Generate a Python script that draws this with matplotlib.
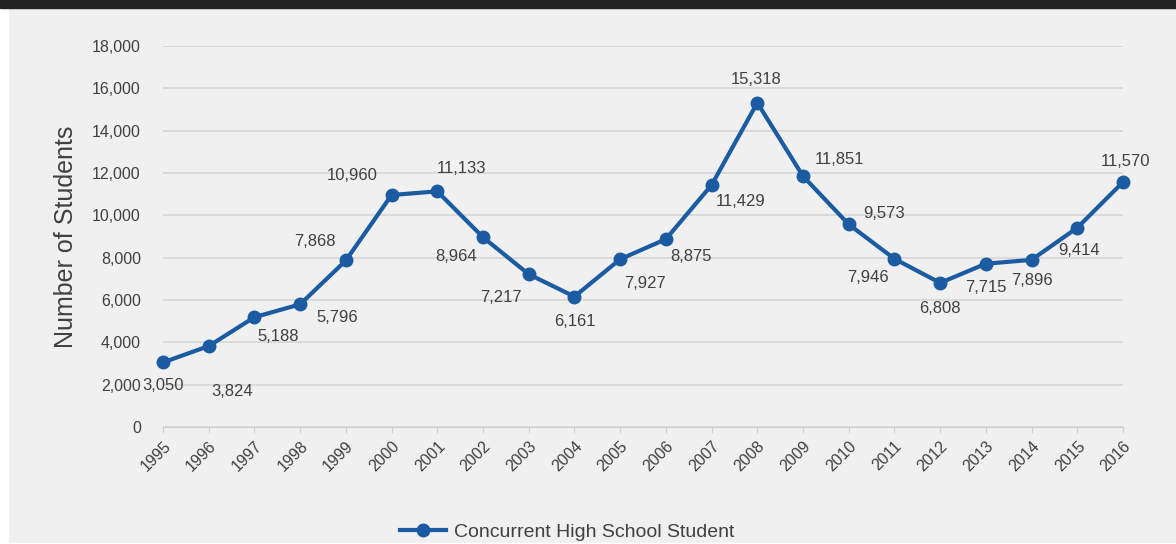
import matplotlib.pyplot as plt
from matplotlib.patches import Rectangle

# === Data ===
years = list(range(1995, 2017))
students = [3050, 3824, 5188, 5796, 7868, 10960, 11133, 8964, 7217, 6161, 7927,
            8875, 11429, 15318, 11851, 9573, 7946, 6808, 7715, 7896, 9414, 11570]
series_name = 'Concurrent High School Student'

# label offsets in pixels (dx, dy) relative to each point
label_offsets = [(0, -23), (23, -45), (24, -19), (37, -13), (-31, 19), (-39, 20),
                 (24, 23), (-27, -19), (-28, -23), (0, -25), (25, -24), (25, -17),
                 (29, -16), (-1, 23), (37, 17), (35, 11), (-26, -19), (0, -26),
                 (0, -24), (0, -21), (2, -23), (3, 21)]

line_color = '#1b5ba1'
bg = '#f0f0f0'
text_color = '#404040'

plt.rcParams['font.family'] = ['Liberation Sans', 'DejaVu Sans']

fig = plt.figure(figsize=(11.76, 5.44), dpi=100, facecolor=bg)
ax = fig.add_axes([163 / 1176, 117 / 544, 960 / 1176, 381 / 544])
ax.set_facecolor(bg)

# frame decoration: white strips left and bottom, dark top band
fig.patches.append(Rectangle((0, 0), 8 / 1176, 1, transform=fig.transFigure,
                             color='white', zorder=0))
fig.patches.append(Rectangle((0, 0), 1, 1.5 / 544, transform=fig.transFigure,
                             color='white', zorder=0))
fig.patches.append(Rectangle((0, 536 / 544), 1, 8 / 544, transform=fig.transFigure,
                             color='#222222', zorder=0))

ax.plot(years, students, color=line_color, lw=3, marker='o', ms=9,
        label=series_name, clip_on=False, zorder=3)

for x, y, (dx, dy) in zip(years, students, label_offsets):
    ax.annotate(f'{y:,}', (x, y), xytext=(dx, dy), textcoords='offset pixels',
                ha='center', va='center', fontsize=12, color=text_color)

ax.set_xlim(1995, 2016)
ax.set_ylim(0, 18000)
ax.set_yticks(range(0, 18001, 2000))
ax.set_yticklabels([f'{v:,}' for v in range(0, 18001, 2000)])
ax.set_xticks(years)
ax.set_xticklabels([str(y) for y in years], rotation=45, ha='right',
                   rotation_mode='anchor')
ax.grid(axis='y', color='#d6d6d6', lw=1.2)
ax.set_axisbelow(True)
for s in ['top', 'right', 'left']:
    ax.spines[s].set_visible(False)
ax.spines['bottom'].set_color('#d0d0d0')
ax.tick_params(axis='y', length=0, pad=16, labelsize=11.5, labelcolor=text_color)
ax.tick_params(axis='x', length=4, color='#d0d0d0', pad=4, labelsize=11.5,
               labelcolor=text_color)
ax.set_ylabel('Number of Students', fontsize=18, color=text_color, labelpad=10)

fig.legend(loc='center', bbox_to_anchor=(567 / 1176, 12 / 544), frameon=False,
           fontsize=14, labelcolor=text_color, handlelength=2.4,
           handletextpad=0.4)

fig.savefig('out.png', dpi=100, facecolor=bg)
